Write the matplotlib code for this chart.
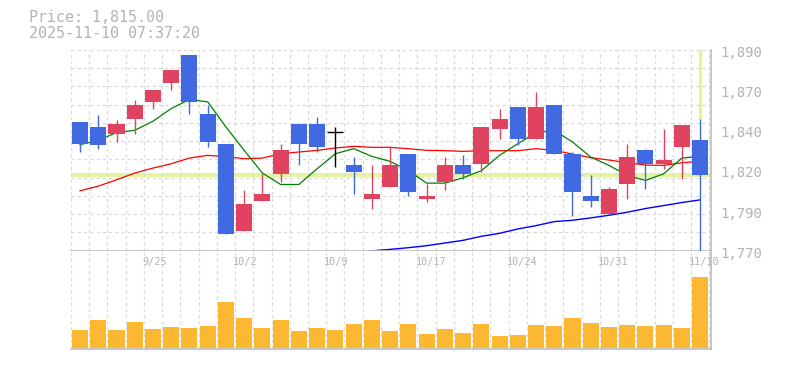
import numpy as np
import matplotlib
matplotlib.use('Agg')
import matplotlib.pyplot as plt

# daily candles (oldest -> newest)
opens  = [1847, 1844, 1840, 1849, 1859, 1870, 1887, 1852, 1834, 1782,
          1800, 1816, 1846, 1846, 1841, 1821, 1801, 1808, 1828, 1801,
          1811, 1821, 1822, 1843, 1856, 1837, 1857, 1828, 1803, 1792,
          1810, 1830, 1822, 1832, 1836]
highs  = [1847, 1851, 1848, 1860, 1866, 1878, 1887, 1857, 1834, 1806,
          1816, 1834, 1846, 1850, 1844, 1826, 1821, 1832, 1828, 1810,
          1826, 1827, 1844, 1855, 1856, 1865, 1857, 1829, 1815, 1808,
          1834, 1831, 1843, 1845, 1849]
lows   = [1829, 1831, 1835, 1840, 1855, 1866, 1852, 1832, 1780, 1782,
          1800, 1811, 1821, 1829, 1820, 1804, 1795, 1808, 1803, 1799,
          1806, 1813, 1817, 1837, 1833, 1837, 1828, 1791, 1796, 1792,
          1801, 1807, 1819, 1813, 1768]
closes = [1834, 1833, 1846, 1857, 1866, 1878, 1859, 1835, 1780, 1798,
          1804, 1830, 1834, 1832, 1841, 1817, 1804, 1821, 1805, 1803,
          1821, 1816, 1844, 1849, 1837, 1856, 1828, 1805, 1800, 1807,
          1826, 1822, 1824, 1845, 1815]

# moving averages
ma5 = [1833.4, 1836.0, 1840.6, 1842.0, 1847.4, 1855.0, 1860.4, 1859.0, 1844.0, 1830.0,
       1816.4, 1809.6, 1809.6, 1819.0, 1828.0, 1831.0, 1826.4, 1823.4, 1818.0, 1810.4,
       1810.4, 1813.6, 1817.8, 1827.0, 1834.0, 1840.5, 1842.0, 1835.0, 1826.0, 1821.0,
       1815.0, 1812.0, 1816.0, 1825.4, 1826.4]
ma25 = [1805.8, 1808.6, 1812.4, 1816.4, 1819.4, 1822.0, 1825.4, 1827.0, 1826.2, 1825.0,
        1825.4, 1828.0, 1829.0, 1830.0, 1831.4, 1832.4, 1831.8, 1831.8, 1831.0, 1830.0,
        1829.8, 1829.4, 1829.8, 1829.8, 1829.8, 1831.0, 1830.0, 1827.8, 1825.6, 1824.2,
        1822.6, 1821.2, 1821.0, 1822.6, 1823.4]
ma75_start = 15
ma75 = [1768.6, 1769.9, 1770.8, 1771.8, 1773.0, 1774.6, 1776.2, 1778.6, 1780.4, 1783.0,
        1785.0, 1787.4, 1788.2, 1789.6, 1791.2, 1793.0, 1795.2, 1797.0, 1798.8, 1800.4]

# volume (thousand shares)
volume = [540, 840, 540, 780, 570, 630, 600, 660, 1380, 900,
          600, 840, 510, 600, 540, 720, 840, 510, 720, 420,
          570, 450, 720, 360, 390, 690, 660, 900, 750, 630,
          690, 660, 690, 600, 2130]

date_pos = [4, 9, 14, 19, 24, 29, 34]
date_labels = ['9/25', '10/2', '10/9', '10/17', '10/24', '10/31', '11/10']

price_ticks = [1890, 1866, 1842, 1818, 1794, 1770]
price_labels = ['1,890', '1,870', '1,840', '1,820', '1,790', '1,770']

last_price = 1815.00
stamp = '2025-11-10 07:37:20'

# colours
UP = '#E0435F'
DOWN = '#4169E1'
VOL = '#FDB833'
HL = '#E3F3A0'
TXT = '#B3B3B3'
GRID = '#D9D9D9'
SPINE = '#BDBDBD'

plt.rcParams['font.family'] = ['DejaVu Sans Mono']

fig = plt.figure(figsize=(7.85, 3.7), dpi=100)
ax = fig.add_axes([0.0901, 0.3224, 0.8153, 0.5425])
axv = fig.add_axes([0.0901, 0.0559, 0.8153, 0.2665], sharex=ax)

n = len(closes)
x = np.arange(n)
o = np.array(opens, float)
c = np.array(closes, float)
h = np.array(highs, float)
l = np.array(lows, float)

# --- price panel
ax.set_xlim(-0.51, 34.58)
ax.set_ylim(1770, 1890)
ax.set_yticks(np.linspace(1770, 1890, 12))
ax.set_xticks(np.arange(n + 1) - 0.5)
ax.grid(True, color=GRID, linestyle=(0, (2.5, 2.5)), linewidth=0.9, zorder=0)
ax.tick_params(length=0, labelleft=False, labelbottom=False)
for s in ['top', 'left']:
    ax.spines[s].set_visible(False)
for s in ['bottom', 'right']:
    ax.spines[s].set_color(SPINE)
    ax.spines[s].set_linewidth(1.2)

# current price marker
ax.axhline(last_price, color=HL, linewidth=3, zorder=1)
ax.vlines(x[-1], h[-1], 1890, color=HL, linewidth=2.5, zorder=1)

ax.plot(x, ma25, color='#FF0000', linewidth=0.9, zorder=2)
ax.plot(x, ma5, color='#008000', linewidth=0.9, zorder=2)
ax.plot(x[ma75_start:], ma75, color='#0000FF', linewidth=1.0, zorder=2)

cols = np.where(c > o, UP, np.where(c < o, DOWN, 'black'))
ax.vlines(x, l, h, colors=cols, linewidth=1.0, zorder=3)
body = np.abs(c - o)
ax.bar(x, body, bottom=np.minimum(o, c), width=0.88, color=cols, linewidth=0, zorder=4)
doji = body == 0
ax.hlines(c[doji], x[doji] - 0.44, x[doji] + 0.44, colors='black', linewidth=1.0, zorder=4)

for v, lab in zip(price_ticks, price_labels):
    ax.annotate(lab, xy=(1, v), xycoords=('axes fraction', 'data'),
                xytext=(7.2, -2.2), textcoords='offset points',
                ha='left', va='center', fontsize=10.1, color=TXT,
                annotation_clip=False)

# --- volume panel
axv.bar(x, volume, width=0.88, color=VOL, linewidth=0, zorder=2)
axv.set_ylim(-40, 2920)
axv.set_yticks([])
axv.grid(True, axis='x', color=GRID, linestyle=(0, (2.5, 2.5)), linewidth=0.9, zorder=0)
axv.tick_params(length=0, labelleft=False, labelbottom=False)
axv.spines['top'].set_visible(False)
axv.spines['left'].set_visible(False)
for s in ['bottom', 'right']:
    axv.spines[s].set_color(SPINE)
    axv.spines[s].set_linewidth(1.2)

for p, lab in zip(date_pos, date_labels):
    axv.annotate(lab, xy=(p, 0.885), xycoords=('data', 'axes fraction'),
                 xytext=(-8, 0), textcoords='offset points',
                 ha='left', va='center', fontsize=7.3, color=TXT,
                 annotation_clip=False)

fig.text(29 / 785, 1 - 17.7 / 370, f'Price: {last_price:,.2f}', fontsize=10.8,
         color=TXT, ha='left', va='center')
fig.text(29 / 785, 1 - 33 / 370, stamp, fontsize=10.8,
         color=TXT, ha='left', va='center')

fig.savefig('out.png', dpi=100)
